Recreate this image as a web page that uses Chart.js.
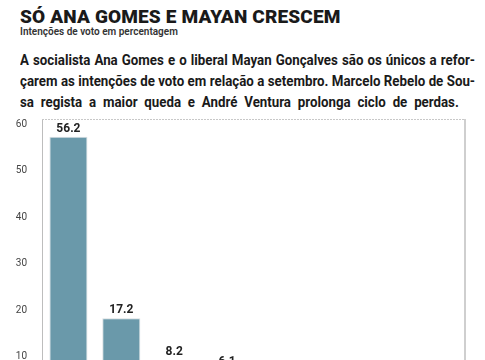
<!DOCTYPE html>
<html lang="pt">
<head>
<meta charset="utf-8">
<script src="https://cdn.jsdelivr.net/npm/chart.js@4"></script>
<style>
  html, body { margin: 0; padding: 0; background: #fff; }
  body { width: 485px; height: 360px; overflow: hidden; position: relative; }
  #title {
    position: absolute; left: 20px; top: 5px;
    font: 900 19px 'Roboto', sans-serif; color: #1a1a1a; letter-spacing: 0.15px;
    white-space: nowrap;
  }
  #sub {
    position: absolute; left: 20px; top: 26px;
    font: 600 10px 'Roboto', sans-serif; color: #333; white-space: nowrap;
  }
  #lead {
    position: absolute; left: 20px; top: 50px; width: 531px;
    transform: scaleX(0.857); transform-origin: 0 0;
    font: 700 15.5px 'Roboto', sans-serif; color: #1a1a1a;
    line-height: 21px;
  }
  #lead div { text-align: justify; text-align-last: justify; white-space: nowrap; }
  #lead div.last { width: 512px; }
  #wrap { position: absolute; left: 0; top: 105px; width: 485px; height: 340px; }
</style>
</head>
<body>
<div id="title">SÓ ANA GOMES E MAYAN CRESCEM</div>
<div id="sub">Intenções de voto em percentagem</div>
<div id="lead">
  <div>A socialista Ana Gomes e o liberal Mayan Gonçalves são os únicos a refor-</div>
  <div>çarem as intenções de voto em relação a setembro. Marcelo Rebelo de Sou-</div>
  <div class="last">sa regista a maior queda e André Ventura prolonga ciclo de perdas.</div>
</div>
<div id="wrap"><canvas id="chart"></canvas></div>
<script>
'use strict';

// ── Data ──────────────────────────────────────────────────
const candidates = [
    'Marcelo Rebelo de Sousa', 'Ana Gomes', 'André Ventura', 'Marisa Matias',
    'João Ferreira', 'Tiago Mayan Gonçalves', 'Vitorino Silva', 'Outros'
];
const votes   = [56.2, 17.2, 8.2, 6.1, 4.3, 3.2, 1.8, 1.0];
const yTicks  = [0, 10, 20, 30, 40, 50, 60];

// ── Plot frame (dotted top, solid right) ──────────────────
const framePlugin = {
    id: 'frame',
    afterDraw(chart) {
        const { ctx, chartArea: a } = chart;
        ctx.save();
        ctx.strokeStyle = '#c8c8c8';
        ctx.lineWidth = 1;
        ctx.setLineDash([2, 1]);
        ctx.beginPath();
        ctx.moveTo(a.left, a.top + 0.5);
        ctx.lineTo(a.right, a.top + 0.5);
        ctx.stroke();
        ctx.setLineDash([]);
        ctx.lineWidth = 2;
        ctx.strokeStyle = '#cfcfcf';
        ctx.beginPath();
        ctx.moveTo(a.right, a.top);
        ctx.lineTo(a.right, a.bottom);
        ctx.stroke();
        ctx.restore();
    }
};

// ── Value labels above bars ───────────────────────────────
const valueLabels = {
    id: 'valueLabels',
    afterDatasetsDraw(chart) {
        const { ctx } = chart;
        const meta = chart.getDatasetMeta(0);
        ctx.save();
        ctx.font = 'bold 12px Roboto, sans-serif';
        ctx.fillStyle = '#222';
        ctx.textAlign = 'center';
        ctx.textBaseline = 'bottom';
        meta.data.forEach((bar, i) => {
            ctx.fillText(votes[i].toFixed(1), bar.x, bar.y - 2);
        });
        ctx.restore();
    }
};

new Chart(document.getElementById('chart'), {
    type: 'bar',
    data: {
        labels: candidates,
        datasets: [{
            data: votes,
            backgroundColor: '#6a99aa',
            borderColor: '#d6dde0',
            borderWidth: 1,
            categoryPercentage: 0.72,
            barPercentage: 1.0,
        }]
    },
    options: {
        responsive: true,
        maintainAspectRatio: false,
        animation: false,
        layout: { padding: { top: 14, right: 20, left: 0, bottom: 0 } },
        plugins: { legend: { display: false }, tooltip: { enabled: false } },
        scales: {
            x: {
                grid: { display: false },
                border: { display: true, color: '#bbb' },
                ticks: { color: '#444', font: { size: 10, family: 'Roboto' }, maxRotation: 0, autoSkip: false },
                afterFit(scale) { scale.height = 46.6; }
            },
            y: {
                min: 0, max: 60,
                afterBuildTicks(scale) { scale.ticks = yTicks.map(v => ({ value: v })); },
                grid: { display: false },
                border: { display: true, color: '#bdbdbd', width: 1 },
                ticks: { color: '#444', font: { size: 10, family: 'Roboto' }, padding: 7, labelOffset: 5 },
                afterFit(scale) { scale.width = 42; }
            }
        }
    },
    plugins: [framePlugin, valueLabels]
});
</script>
</body>
</html>
